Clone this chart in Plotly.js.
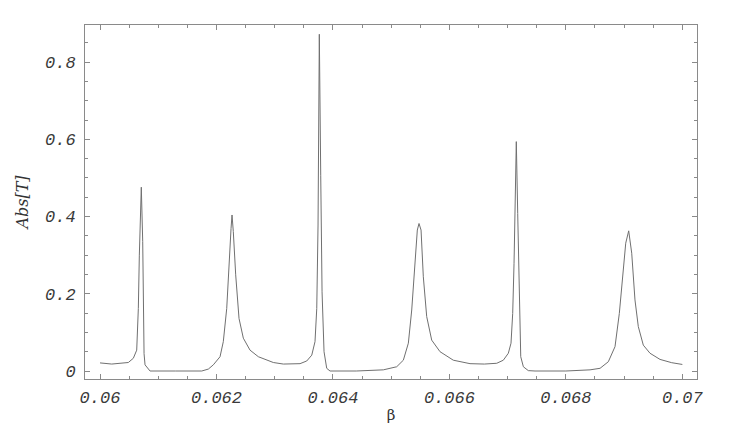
<!DOCTYPE html>
<html>
<head>
<meta charset="utf-8">
<script src="https://cdn.plot.ly/plotly-3.0.1.min.js"></script>
<style>
  html, body { margin: 0; padding: 0; background: #fff; }
  #graph1 { width: 747px; height: 439px; }
</style>
</head>
<body>
<div id="graph1"></div>
<script>
// beta values and |T|
var beta = [
    0.06000, 0.060201, 0.060486, 0.060572, 0.060630, 0.060658, 0.060675, 0.060709,
    0.060733, 0.060745, 0.060756, 0.060773, 0.060859, 0.06130, 0.061747,
    0.061860, 0.061946, 0.062061, 0.062117, 0.062176, 0.062215, 0.062250, 0.062267,
    0.062289, 0.062330, 0.062387, 0.062461, 0.062576, 0.062719, 0.062863,
    0.062976, 0.063148, 0.063435, 0.063550, 0.063636, 0.063692, 0.063722, 0.063744,
    0.063766, 0.063790, 0.063813, 0.063847, 0.063893, 0.063950, 0.06440, 0.064865,
    0.065095, 0.065209, 0.065295, 0.065353, 0.065410, 0.065449, 0.065478, 0.065513,
    0.065552, 0.065610, 0.065696, 0.065839, 0.066067, 0.066354, 0.066600, 0.066813,
    0.066926, 0.067012, 0.067058, 0.067087, 0.067110, 0.067132, 0.067149, 0.067173,
    0.067201, 0.067225, 0.067270, 0.067355, 0.067470, 0.06800, 0.068415,
    0.068587, 0.068729, 0.068844, 0.068918, 0.068977, 0.069028, 0.069079, 0.069131,
    0.069187, 0.069244, 0.069330, 0.069445, 0.069617, 0.069818, 0.070000
];
var absT = [
    0.021, 0.018, 0.022, 0.033, 0.054, 0.162, 0.300, 0.476,
    0.335, 0.160, 0.045, 0.016, 0.0, 0.0, 0.0,
    0.005, 0.016, 0.037, 0.076, 0.162, 0.292, 0.369, 0.404,
    0.361, 0.249, 0.136, 0.085, 0.054, 0.037, 0.029,
    0.022, 0.018, 0.019, 0.026, 0.041, 0.076, 0.162, 0.378,
    0.872, 0.507, 0.205, 0.050, 0.007, 0.0, 0.0, 0.003,
    0.011, 0.028, 0.072, 0.158, 0.287, 0.365, 0.382, 0.365,
    0.244, 0.141, 0.080, 0.050, 0.028, 0.019, 0.018, 0.020,
    0.028, 0.046, 0.072, 0.149, 0.279, 0.451, 0.594, 0.408,
    0.149, 0.037, 0.011, 0.001, 0.0, 0.0, 0.003,
    0.007, 0.024, 0.063, 0.149, 0.253, 0.331, 0.363, 0.305,
    0.184, 0.115, 0.067, 0.046, 0.030, 0.0215, 0.017
];

var tickFont = {family: 'Liberation Mono, Courier New, monospace', size: 17, color: '#3a3a3a', style: 'italic'};
var frameColor = '#8a8a8a';

var trace1 = {
    type: 'scatter',
    mode: 'lines',
    x: beta,
    y: absT,
    line: {color: '#707070', width: 1},
    hoverinfo: 'x+y'
};

var layout1 = {
    width: 747,
    height: 439,
    showlegend: false,
    paper_bgcolor: '#fff',
    plot_bgcolor: '#fff',
    margin: {l: 85, r: 50, t: 25, b: 60, pad: 0},
    xaxis: {
        range: [0.059742, 0.070252],
        tick0: 0.06,
        dtick: 0.002,
        ticks: 'inside',
        ticklen: 5,
        tickcolor: frameColor,
        showgrid: false,
        zeroline: false,
        showline: true,
        linecolor: frameColor,
        linewidth: 1,
        mirror: 'ticks',
        minor: {dtick: 0.0005, tick0: 0.06, ticks: 'inside', ticklen: 3, tickcolor: frameColor, showgrid: false},
        tickfont: tickFont,
        ticklabelstandoff: 3,
        title: {text: 'β', font: {family: 'DejaVu Serif, serif', size: 15, color: '#333'}, standoff: 2}
    },
    yaxis: {
        range: [-0.0207, 0.896],
        tick0: 0,
        dtick: 0.2,
        ticks: 'inside',
        ticklen: 5,
        tickcolor: frameColor,
        showgrid: false,
        zeroline: false,
        showline: true,
        linecolor: frameColor,
        linewidth: 1,
        mirror: 'ticks',
        minor: {dtick: 0.05, tick0: 0, ticks: 'inside', ticklen: 3, tickcolor: frameColor, showgrid: false},
        tickfont: tickFont,
        ticklabelstandoff: 5,
        title: {text: 'Abs[T]', font: {family: 'DejaVu Serif, serif', size: 16, color: '#333', style: 'italic'}, standoff: 12}
    }
};

Plotly.newPlot('graph1', [trace1], layout1, {displayModeBar: false, staticPlot: true});
</script>
</body>
</html>
